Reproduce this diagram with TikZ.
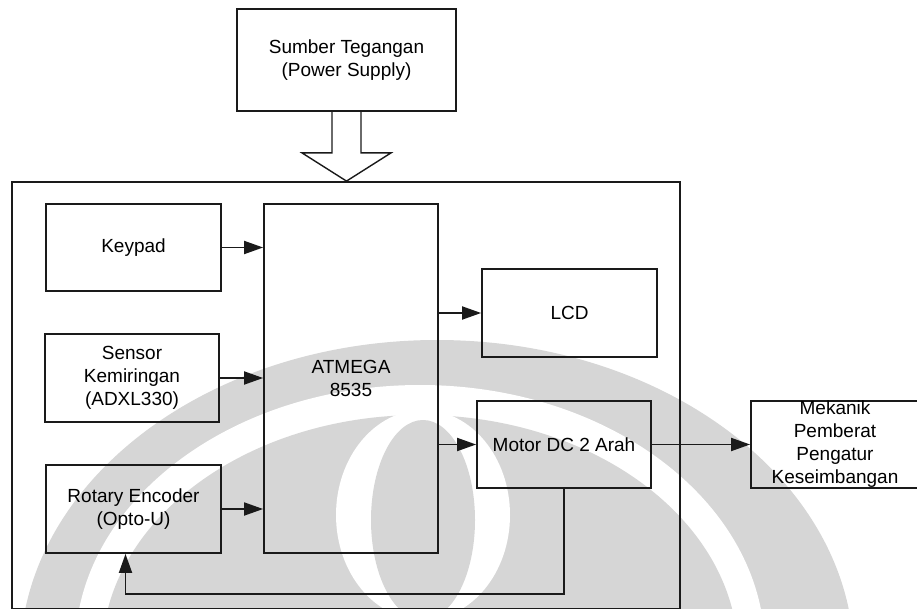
\documentclass[tikz,border=0pt]{standalone}
\usepackage{fontspec}
\setmainfont{Liberation Sans}
\usetikzlibrary{arrows.meta, positioning, calc}
\definecolor{wmark}{HTML}{D6D6D6}
\definecolor{ink}{HTML}{1A1A1A}

\begin{document}
\begin{tikzpicture}[x=1pt, y=-1pt,
  blok/.style={draw=ink, line width=1.8pt, align=center, inner sep=0pt,
    font=\fontsize{19}{23}\selectfont},
  txt/.style={align=center, inner sep=0pt, font=\fontsize{19}{23}\selectfont},
  arr/.style={-{Triangle[length=19pt,width=13pt]}, draw=ink, line width=1.8pt}]
  \useasboundingbox (0,0) rectangle (917,609);
  \clip (0,0) rectangle (917,609);
  % Watermark behind
  \fill[wmark] (437,660) ellipse [x radius=417, y radius=320];
  \fill[white] (420,650) ellipse [x radius=345, y radius=265];
  \fill[wmark] (420,655) ellipse [x radius=318, y radius=240];
  \fill[white] (423,515) ellipse [x radius=87, y radius=105];
  \fill[wmark] (423,520) ellipse [x radius=52, y radius=100];
  % Power supply
  \node[blok, minimum width=219pt, minimum height=102pt] (pwr) at (346.5,60)
    {Sumber Tegangan\\(Power Supply)};
  % System frame
  \node[blok, minimum width=668pt, minimum height=427pt] (sys) at (346,395.5) {};
  % Input nodes
  \node[blok, minimum width=175pt, minimum height=87pt] (key) at (133.5,247.5) {Keypad};
  \node[blok, minimum width=174pt, minimum height=88pt] (sens) at (132,378)
    {Sensor\\Kemiringan\\(ADXL330)};
  \node[blok, minimum width=175pt, minimum height=88pt] (rot) at (133.5,509)
    {Rotary Encoder\\(Opto-U)};
  % Controller
  \node[blok, minimum width=174pt, minimum height=349pt] (mcu) at (351,378.5)
    {ATMEGA\\8535};
  % Output nodes
  \node[blok, minimum width=175pt, minimum height=88pt] (lcd) at (569.5,313) {LCD};
  \node[blok, minimum width=174pt, minimum height=87pt] (mot) at (564,444.5)
    {Motor DC 2 Arah};
  \node[blok, minimum width=168pt, minimum height=87pt] (mek) at (835,444.5) {};
  \node[txt] (mektxt) at (mek.center) {Mekanik\\Pemberat\\Pengatur\\Keseimbangan};
  % Power arrow
  \draw[draw=ink, line width=1.4pt, line join=miter]
    ($(pwr.south)+(-14.5,0)$) -- ++(0,41) -- ++(-30,0) -- (pwr.south |- sys.north)
    -- ($(pwr.south)+(44.5,41)$) -- ++(-30,0) -- ($(pwr.south)+(14.5,0)$);
  % Arrows
  \draw[arr] (key.east) -- (key.east -| mcu.west);
  \draw[arr] (sens.east) -- (sens.east -| mcu.west);
  \draw[arr] (rot.east) -- (rot.east -| mcu.west);
  \draw[arr] (lcd.west -| mcu.east) -- (lcd.west);
  \draw[arr] (mot.west -| mcu.east) -- (mot.west);
  \draw[arr] (mot.east) -- (mek.west);
  % Feedback
  \coordinate (fb) at ($(mot.south)+(0,105)$);
  \draw[arr] (mot.south) -- (fb) -| ($(rot.south)+(-8,0)$);
\end{tikzpicture}
\end{document}
